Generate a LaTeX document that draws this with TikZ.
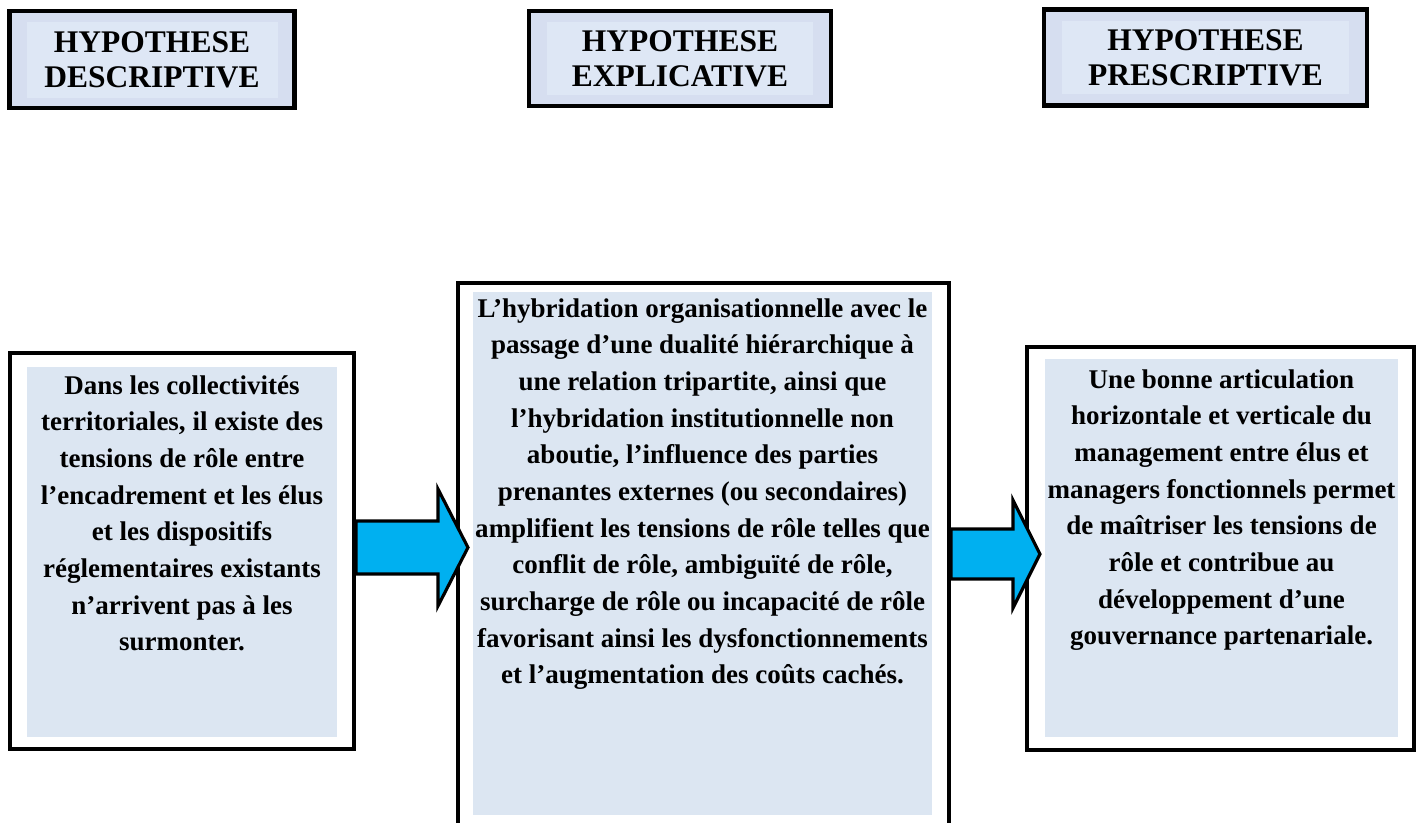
\documentclass[tikz,border=0pt]{standalone}
\usepackage{fontspec}
\setmainfont{Liberation Serif}
\usepackage{tikz}
\usetikzlibrary{
  calc, positioning, backgrounds
}
\definecolor{headOuter}{RGB}{214,222,240}
\definecolor{headInner}{RGB}{222,231,245}
\definecolor{boxFill}{RGB}{220,230,242}
\definecolor{arrowBlue}{RGB}{0,176,240}

\begin{document}
\begin{tikzpicture}[x=0.4444pt, y=-0.4444pt]
            \pgfmathsetmacro{\px}{0.4444}
            \tikzstyle{frameOut}=[draw, line width=1.8pt, inner sep=0pt]
            \tikzstyle{fillIn}=[fill=boxFill, draw=none, inner sep=0pt]
            \tikzstyle{headText}=[align=center, inner sep=0pt, font=\bfseries\fontsize{14}{15.6}\selectfont]
            \tikzstyle{bodyText}=[align=center, inner sep=0pt, anchor=north, font=\bfseries\fontsize{12}{16.3}\selectfont]
            \tikzstyle{blockArrow}=[draw, line width=1.4pt, fill=arrowBlue, line join=miter]

            \useasboundingbox (0,0) rectangle (1422,823);
            \clip (0,0) rectangle (1422,823);

            %%%%%%%%%%%%%%%%%%%%%%%%%%%%%%%%%%%%%%%%
            % titres
            \node at (152, 59.5) (descHead) [frameOut, fill=headOuter, minimum width=285*\px pt, minimum height=97*\px pt] {};
            \node at (152.5, 60) (descHeadIn) [fillIn, fill=headInner, minimum width=251*\px pt, minimum height=76*\px pt] {};
            \node at (descHead.center) (descTitle) [headText] {HYPOTHESE\\DESCRIPTIVE};

            \node at (680, 58.5) (explHead) [frameOut, fill=headOuter, minimum width=302*\px pt, minimum height=95*\px pt] {};
            \node at (680, 58.5) (explHeadIn) [fillIn, fill=headInner, minimum width=266*\px pt, minimum height=73*\px pt] {};
            \node at (explHead.center) (explTitle) [headText] {HYPOTHESE\\EXPLICATIVE};

            \node at (1205.5, 57.5) (prescHead) [frameOut, fill=headOuter, minimum width=323*\px pt, minimum height=96*\px pt] {};
            \node at (1205.5, 57.5) (prescHeadIn) [fillIn, fill=headInner, minimum width=287*\px pt, minimum height=73*\px pt] {};
            \node at (prescHead.center) (prescTitle) [headText] {HYPOTHESE\\PRESCRIPTIVE};

            %%%%%%%%%%%%%%%%%%%%%%%%%%%%%%%%%%%%%%%%
            % cadres
            \node at (182, 551) (descBox) [frameOut, minimum width=344*\px pt, minimum height=396*\px pt] {};
            \node at (182, 552) (descFill) [fillIn, minimum width=310*\px pt, minimum height=370*\px pt] {};
            \node at (182, 375) (descText) [bodyText] {Dans les collectivités\\territoriales, il existe des\\tensions de rôle entre\\l’encadrement et les élus\\et les dispositifs\\réglementaires existants\\n’arrivent pas à les\\surmonter.};

            \node at (703.5, 561.5) (explBox) [frameOut, minimum width=491*\px pt, minimum height=557*\px pt] {};
            \node at (702.5, 553.5) (explFill) [fillIn, minimum width=459*\px pt, minimum height=523*\px pt] {};
            \node at (702.5, 298) (explText) [bodyText] {L’hybridation organisationnelle avec le\\passage d’une dualité hiérarchique à\\une relation tripartite, ainsi que\\l’hybridation institutionnelle non\\aboutie, l’influence des parties\\prenantes externes (ou secondaires)\\amplifient les tensions de rôle telles que\\conflit de rôle, ambiguïté de rôle,\\surcharge de rôle ou incapacité de rôle\\favorisant ainsi les dysfonctionnements\\et l’augmentation des coûts cachés.};

            \node at (1220.5, 548.5) (prescBox) [frameOut, minimum width=387*\px pt, minimum height=403*\px pt] {};
            \node at (1221.5, 548) (prescFill) [fillIn, minimum width=353*\px pt, minimum height=378*\px pt] {};
            \node at (1221.5, 369) (prescText) [bodyText] {Une bonne articulation\\horizontale et verticale du\\management entre élus et\\managers fonctionnels permet\\de maîtriser les tensions de\\rôle et contribue au\\développement d’une\\gouvernance partenariale.};

            %%%%%%%%%%%%%%%%%%%%%%%%%%%%%%%%%%%%%%%%
            % fleches
            \coordinate (tail1) at (descBox.east |- 0,547.5);
            \coordinate (tip1) at ($(explBox.west |- 0,547.5)+(12,0)$);
            \draw[blockArrow] ($(tail1)+(0,-26.5)$) -- ($(tip1)+(-30,-26.5)$) -- ($(tip1)+(-30,-58.5)$) -- (tip1)
                -- ($(tip1)+(-30,58.5)$) -- ($(tip1)+(-30,26.5)$) -- ($(tail1)+(0,26.5)$) -- cycle;

            \coordinate (tail2) at (explBox.east |- 0,554);
            \coordinate (tip2) at ($(prescBox.west |- 0,554)+(15,0)$);
            \draw[blockArrow] ($(tail2)+(0,-25)$) -- ($(tip2)+(-27,-25)$) -- ($(tip2)+(-27,-54)$) -- (tip2)
                -- ($(tip2)+(-27,54)$) -- ($(tip2)+(-27,25)$) -- ($(tail2)+(0,25)$) -- cycle;
        \end{tikzpicture}
\end{document}
